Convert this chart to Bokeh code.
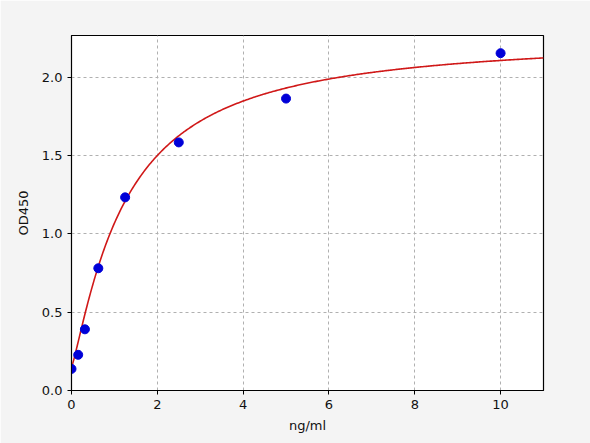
import numpy as np
from bokeh.plotting import figure
from bokeh.models import FixedTicker, Range1d, CustomJSTickFormatter
from bokeh.embed import file_html
from bokeh.resources import INLINE

# standard concentrations (ng/ml) and measured OD450
conc = [0.0, 0.156, 0.3125, 0.625, 1.25, 2.5, 5.0, 10.0]
od450 = [0.138, 0.228, 0.391, 0.781, 1.234, 1.585, 1.865, 2.155]

# four-parameter logistic fit parameters (A bottom, B slope, C mid, D top)
fit_A, fit_B, fit_C, fit_D = 0.15, 1.2, 1.25, 2.27

x_ticks = [0, 2, 4, 6, 8, 10]
y_ticks = [0.0, 0.5, 1.0, 1.5, 2.0]

W, H = 590, 443
p = figure(width=W, height=H, output_backend="svg", toolbar_location=None,
           x_range=Range1d(0, 11), y_range=Range1d(0, 2.268),
           min_border_left=71, min_border_right=47, min_border_top=35, min_border_bottom=53)

p.background_fill_color = "white"
p.border_fill_color = "#f4f4f4"
p.outline_line_color = "black"
p.outline_line_width = 1.2

xs = np.linspace(0, 11, 400)
ys = fit_D + (fit_A - fit_D) / (1 + (xs / fit_C) ** fit_B)
p.line(xs, ys, line_color="#d01818", line_width=1.6)
p.scatter(conc, od450, size=9, fill_color="#0000d8", line_color="#0000d8")

for ax in (p.xaxis[0], p.yaxis[0]):
    ax.major_tick_out = 4
    ax.major_tick_in = 0
    ax.minor_tick_line_color = None
    ax.axis_line_color = "black"
    ax.major_tick_line_color = "black"
    ax.major_label_text_font = "DejaVu Sans"
    ax.major_label_text_font_size = "13px"
    ax.major_label_text_color = "#111111"
    ax.axis_label_text_font = "DejaVu Sans"
    ax.axis_label_text_font_size = "13px"
    ax.axis_label_text_font_style = "normal"
    ax.axis_label_text_color = "#111111"

p.xaxis[0].ticker = FixedTicker(ticks=x_ticks)
p.yaxis[0].ticker = FixedTicker(ticks=y_ticks)
p.yaxis[0].formatter = CustomJSTickFormatter(code="return tick.toFixed(1);")
p.xaxis[0].axis_label = "ng/ml"
p.yaxis[0].axis_label = "OD450"
p.xaxis[0].axis_label_standoff = 6
p.yaxis[0].axis_label_standoff = 8

for g in (p.xgrid[0], p.ygrid[0]):
    g.grid_line_color = "#b0b0b0"
    g.grid_line_dash = "3 3"
    g.grid_line_width = 1

open("out.html", "w").write(file_html(p, INLINE))
